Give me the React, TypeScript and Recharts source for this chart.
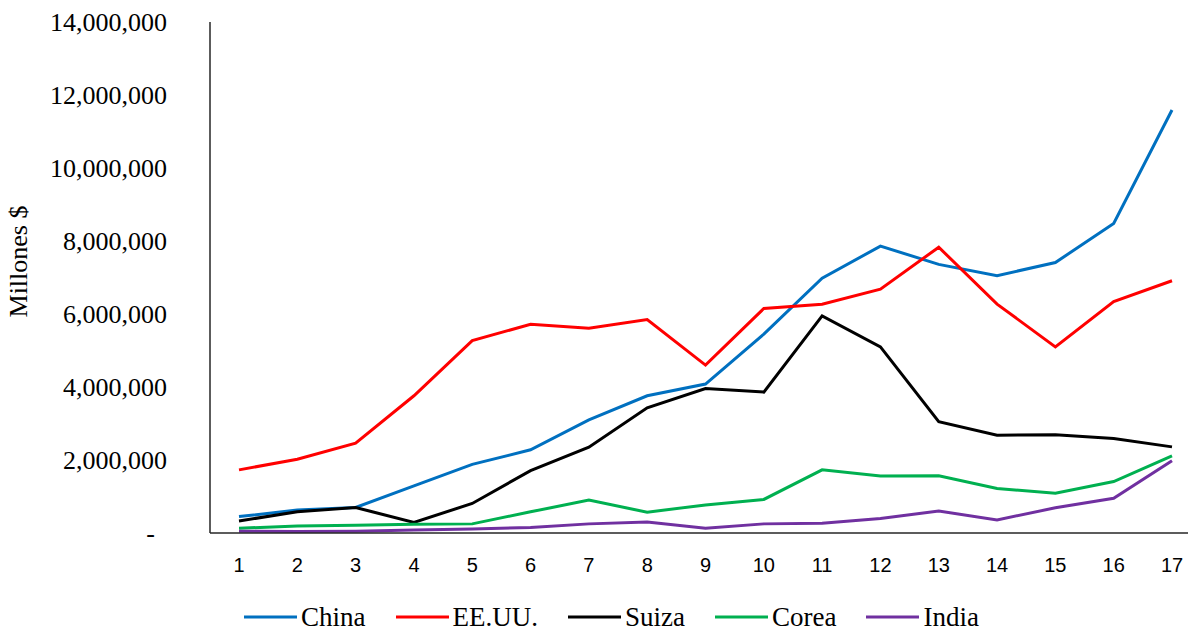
import React from 'react';
import { LineChart, Line, XAxis, YAxis, Legend } from 'recharts';

const periods = ['1', '2', '3', '4', '5', '6', '7', '8', '9', '10', '11', '12', '13', '14', '15', '16', '17'];

const china = [450000, 630000, 700000, 1290000, 1880000, 2280000, 3100000, 3760000, 4080000, 5450000, 6980000, 7860000, 7360000, 7050000, 7410000, 8480000, 11590000];
const eeuu = [1730000, 2020000, 2460000, 3760000, 5270000, 5720000, 5610000, 5850000, 4600000, 6150000, 6270000, 6680000, 7830000, 6270000, 5100000, 6340000, 6910000];
const suiza = [330000, 580000, 700000, 290000, 810000, 1710000, 2350000, 3430000, 3960000, 3860000, 5950000, 5100000, 3050000, 2680000, 2690000, 2590000, 2360000];
const corea = [130000, 190000, 210000, 240000, 250000, 580000, 900000, 570000, 770000, 920000, 1730000, 1560000, 1570000, 1220000, 1090000, 1410000, 2110000];
const india = [50000, 40000, 50000, 80000, 110000, 150000, 250000, 300000, 130000, 250000, 270000, 400000, 600000, 360000, 690000, 950000, 1980000];

const yTicks = [0, 2000000, 4000000, 6000000, 8000000, 10000000, 12000000, 14000000];

const series = [
  { key: 'China', values: china, color: '#0070C0' },
  { key: 'EE.UU.', values: eeuu, color: '#FF0000' },
  { key: 'Suiza', values: suiza, color: '#000000' },
  { key: 'Corea', values: corea, color: '#00B050' },
  { key: 'India', values: india, color: '#7030A0' },
];

const data = periods.map((p, i) => {
  const row: Record<string, string | number> = { period: p };
  series.forEach((s) => {
    row[s.key] = s.values[i];
  });
  return row;
});

const serif = '"Liberation Serif", "Times New Roman", serif';
const sans = '"Liberation Sans", Arial, sans-serif';

const YTick = (props: any) => {
  const { x, y, payload } = props;
  const v = payload.value as number;
  if (v === 0) {
    return (
      <text x={x - 12} y={y} dy="0.35em" textAnchor="end" fontFamily={serif} fontSize={26} fill="#000">
        -
      </text>
    );
  }
  return (
    <text x={x} y={y} dy="0.35em" textAnchor="end" fontFamily={serif} fontSize={26} fill="#000">
      {v.toLocaleString('en-US')}
    </text>
  );
};

const YLabel = (props: any) => {
  const { viewBox } = props;
  const cx = 27;
  const cy = viewBox.y + viewBox.height / 2 - 16;
  return (
    <text
      x={cx}
      y={cy}
      textAnchor="middle"
      fontFamily={serif}
      fontSize={26}
      fill="#000"
      transform={`rotate(-90, ${cx}, ${cy})`}
    >
      Millones $
    </text>
  );
};

// legend keeps the series order (China, EE.UU., Suiza, Corea, India)
const LegendContent = () => (
  <div style={{ height: 22, display: 'flex', alignItems: 'center', paddingLeft: 244, gap: 30 }}>
    {series.map((s) => (
      <div key={s.key} style={{ display: 'flex', alignItems: 'center', gap: 4, height: 22 }}>
        <svg width={53} height={4}>
          <line x1={0} y1={2} x2={53} y2={2} stroke={s.color} strokeWidth={3} />
        </svg>
        <span style={{ fontFamily: serif, fontSize: 27, color: '#000', lineHeight: '20px', whiteSpace: 'nowrap' }}>
          {s.key}
        </span>
      </div>
    ))}
  </div>
);

export default function App() {
  return (
    <div style={{ position: 'absolute', left: 0, top: 0, width: 1188, height: 632, overflow: 'hidden', background: '#fff' }}>
      <LineChart width={1210} height={632} data={data} margin={{ top: 22, right: 9, left: 0, bottom: 18 }}>
        <XAxis
          dataKey="period"
          interval={0}
          padding={{ left: 29, right: 29 }}
          tickLine={false}
          tickSize={0}
          tickMargin={25}
          height={59}
          axisLine={{ stroke: '#262626', strokeWidth: 1.5 }}
          tick={{ fontFamily: sans, fontSize: 20, fill: '#000' }}
        />
        <YAxis
          width={210}
          domain={[0, 14000000]}
          ticks={yTicks}
          tickLine={false}
          tickSize={0}
          tickMargin={43}
          axisLine={{ stroke: '#262626', strokeWidth: 1.5 }}
          tick={<YTick />}
          label={{ content: <YLabel /> }}
        />
        <Legend
          verticalAlign="bottom"
          content={<LegendContent />}
          wrapperStyle={{ left: 0, top: 606, width: 1188, bottom: 'auto' }}
        />
        {series.map((s) => (
          <Line
            key={s.key}
            type="linear"
            dataKey={s.key}
            stroke={s.color}
            strokeWidth={3}
            dot={false}
            activeDot={false}
            isAnimationActive={false}
          />
        ))}
      </LineChart>
    </div>
  );
}
